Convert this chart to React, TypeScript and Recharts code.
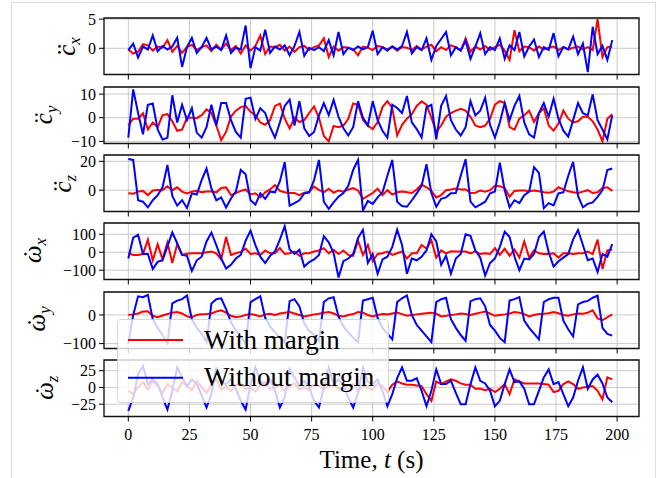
import { LineChart, Line, XAxis, YAxis, CartesianGrid, ReferenceArea } from "recharts"

// sample times (s)
const TIME = [
  0, 2, 4, 6, 8, 10, 12, 14, 16, 18, 20, 22, 24, 26, 28, 30, 32, 34, 36, 38,
  40, 42, 44, 46, 48, 50, 52, 54, 56, 58, 60, 62, 64, 66, 68, 70, 72, 74, 76, 78,
  80, 82, 84, 86, 88, 90, 92, 94, 96, 98, 100, 102, 104, 106, 108, 110, 112, 114, 116, 118,
  120, 122, 124, 126, 128, 130, 132, 134, 136, 138, 140, 142, 144, 146, 148, 150, 152, 154, 156, 158,
  160, 162, 164, 166, 168, 170, 172, 174, 176, 178, 180, 182, 184, 186, 188, 190, 192, 194, 196, 198,
]

// c_x acceleration
const CX_WITH = [
  -0.2, -0.9, -0.6, 0.7, 0.5, -0.4, 0.3, 0.1, 1.4, -0.6,
  0.4, -0.8, 0.2, 0.6, -0.3, 0.2, 0.5, -0.5, 0.6, -0.2,
  0.8, -0.3, 0.4, -0.9, 0.5, -0.4, 0.4, 2.2, -1.0, 0.3,
  0.2, 0.6, -0.4, 0.3, -0.6, 0.2, 0.4, -0.3, 0.2, 0.5,
  1.7, -1.5, 0.3, -0.4, 0.2, 0.1, -0.2, -1.2, 0.3, 0.1,
  -0.3, 0.4, 0.2, -0.2, 0.3, -0.4, 0.2, 0.1, -0.3, 0.4,
  -0.2, 0.3, 0.6, -0.5, 0.2, -0.3, 0.5, 0.2, -0.4, 1.7,
  -0.6, 0.3, -0.2, 0.4, -0.3, 0.2, 0.6, -0.4, -2.0, 3.1,
  -0.5, 0.3, 0.2, -0.4, 0.3, -0.2, 0.1, 0.3, -0.3, 0.2,
  -0.2, 0.1, 0.3, -0.2, 0.2, -0.3, 5.0, -1.5, 0.2, 0.3,
]
const CX_WITHOUT = [
  -0.3, 0.8, -1.6, 0.3, -0.2, 2.2, -0.5, 0.4, -0.2, 0.3,
  1.8, -3.2, 0.2, 1.8, -0.8, 0.2, 1.8, -0.2, 0.3, -0.3,
  2.2, -0.8, 0.1, -0.2, 3.9, -3.4, 0.2, -0.4, 3.2, -0.8,
  0.3, -0.2, 0.5, -1.2, 0.4, 2.8, -1.3, 0.1, -0.3, 0.2,
  -0.5, 1.4, -1.2, 2.8, -1.0, 0.1, -0.3, 0.3, -0.2, 0.2,
  3.0, -1.0, 0.2, -0.4, 0.3, -0.2, 0.4, 2.8, -0.9, 0.2,
  -0.3, 1.7, -2.0, 0.4, 1.6, 2.8, -1.2, 0.2, -0.4, 1.3,
  -1.8, 0.3, 2.6, -1.0, 0.2, -0.3, 1.7, -1.8, 0.5, -0.3,
  2.8, -1.4, 0.3, 1.5, -1.5, 0.2, -0.3, 2.6, -1.4, 0.2,
  -0.2, 2.0, -1.0, 0.8, -4.1, 3.7, -1.0, 0.4, -2.0, 1.4,
]

// c_y acceleration
const CY_WITH = [
  -3.3, -0.4, -0.4, 1.9, -5.0, -2.0, -4.0, 1.1, 1.5, -1.5,
  -5.5, -5.0, 0.0, 0.0, -0.2, 1.1, 3.5, 2.0, -3.3, -9.5,
  -6.0, 0.5, 3.0, 4.5, 5.0, 2.5, 1.0, -2.0, -3.0, -1.0,
  5.0, 6.0, -0.4, -4.5, 0.0, -1.8, -1.0, 2.0, 4.8, 0.0,
  -7.7, -10.0, -3.5, -4.0, -3.3, -0.5, 6.0, 5.5, -1.0, -3.3,
  -4.8, -1.8, 4.5, 7.0, 4.1, -7.5, -3.0, -0.4, 1.5, 5.0,
  7.0, 5.5, 0.0, -6.0, -3.3, 0.4, 2.0, 3.0, 3.8, 3.0,
  0.4, -3.3, -4.0, -3.3, -0.4, 5.5, 7.0, 6.3, -4.0, -5.0,
  -0.4, 1.1, 3.0, -1.8, 2.0, 4.0, -3.3, -5.5, -2.5, 3.0,
  -0.4, -2.0, -1.5, 0.4, 0.4, -1.5, -5.0, -10.0, -0.4, 1.5,
]
const CY_WITHOUT = [
  -8.4, 12.0, 2.0, -7.0, 5.5, 6.0, -5.0, -9.2, -8.5, 9.5,
  -2.0, 5.5, -1.0, 4.0, -6.3, -8.4, -4.0, 5.5, -3.3, 6.2,
  6.2, -1.0, -6.0, -8.4, 8.0, 8.5, -0.5, 4.0, 2.0, -4.0,
  -8.4, -2.0, 5.0, 7.7, -3.3, 7.0, -4.5, -7.7, -6.0, 1.0,
  6.2, 1.1, 7.5, 0.4, -4.5, -7.5, -4.0, 7.0, 0.0, -3.3,
  7.0, -1.0, -5.5, -8.4, 5.5, 4.1, 2.0, 9.2, -2.0, -4.8,
  -8.4, 4.5, 5.5, -9.2, 5.0, 9.2, -1.0, -5.0, -7.5, -4.0,
  7.0, 1.0, 3.0, 8.5, -3.0, -8.4, -2.0, 6.2, -1.0, 5.0,
  9.2, -2.0, -7.0, -8.4, 2.0, 6.2, 0.4, 8.0, -0.4, -5.5,
  -8.0, -1.0, 6.2, 1.9, 1.0, 9.9, -1.0, -5.0, -9.2, 1.0,
]

// c_z acceleration
const CZ_WITH = [
  -2.2, -2.5, -1.0, -0.5, -3.4, -0.2, 0.2, 0.0, 2.7, 0.0,
  2.0, -1.0, -2.2, -1.0, -0.5, -1.5, -1.0, -1.0, -1.5, 1.5,
  1.9, -3.4, -2.0, -0.5, 0.5, -3.0, -2.2, -5.0, -1.5, 0.5,
  3.5, -0.5, -1.5, -2.0, -2.0, -3.4, -1.8, -1.0, 2.5, 0.2,
  -1.5, 1.0, -1.8, -0.2, -1.0, 0.5, 1.5, -0.2, -6.0, -4.0,
  -2.0, 1.0, -3.5, 0.0, -3.0, -1.5, -1.0, -1.5, -2.0, 0.5,
  3.9, 2.0, -0.5, -5.0, -3.4, 0.0, 0.5, 1.2, 0.5, 0.7,
  -2.0, -1.8, -0.2, -1.0, 0.0, 3.0, 2.7, 1.5, -4.5, -0.5,
  -0.2, -0.3, -0.8, -0.2, -0.8, -1.5, -1.8, -1.0, 2.0, 0.5,
  -0.8, -1.5, -2.0, -1.0, 0.0, -2.0, -1.5, 1.5, 2.0, -0.5,
]
const CZ_WITHOUT = [
  21.6, 21.0, -7.0, -8.0, -12.0, -7.0, -3.5, 2.0, 17.5, -4.0,
  -10.7, -7.0, -12.4, -2.2, -3.0, 7.0, 15.0, 1.0, -7.0, -5.0,
  -12.0, -5.8, -1.0, 14.0, 11.0, -7.0, -10.0, -2.2, -6.0, -1.0,
  -1.5, 6.0, 19.5, -10.7, -9.0, -7.0, -2.2, -1.7, 7.0, 21.0,
  -8.0, -13.0, -8.5, -4.5, -2.0, 3.0, 14.0, 21.0, -14.0, -7.5,
  -9.5, -5.0, -1.5, 10.0, 21.0, -8.0, -11.0, -11.5, -7.0, -2.2,
  3.0, 18.0, -2.0, -11.5, -6.0, -5.0, -2.2, -2.0, 10.0, 21.5,
  -8.0, -11.9, -10.0, -8.0, -2.2, -1.0, 19.0, 0.0, -11.9, -7.0,
  -9.0, -3.5, -1.0, 16.0, 12.0, -12.5, -9.0, -10.5, -2.2, -1.5,
  10.0, 19.7, -4.0, -11.9, -9.5, -8.5, -4.6, 0.0, 14.0, 15.0,
]

// omega_x rate
const WX_WITH = [
  -6, -15, -15, -10, 70, -45, 45, -40, 55, -60,
  45, -15, -8, -5, -6, -6, 0, 4, -6, -40,
  85, -15, -6, 2, 20, -10, -6, -15, 10, -6,
  -6, 23, -10, -6, 4, -20, -6, -6, 4, 10,
  23, -6, 14, -10, 10, -15, -20, 65, -15, 40,
  -50, -10, -6, 4, -15, -6, 4, -35, -6, -6,
  40, 20, 65, -30, 10, -6, 5, 4, 4, 4,
  -6, 5, -10, -6, -10, 23, -15, 20, -20, 15,
  -30, 60, -30, 10, -6, -10, -10, -6, -30, -6,
  -6, -10, -6, -6, 4, -10, 70, -93, 10, 15,
]
const WX_WITHOUT = [
  -35, 81, 97, -10, -10, -93, -54, -45, 33, 110,
  50, -15, -20, -105, -45, -25, 60, 110, 40, -35,
  -90, -70, -35, -15, 65, 120, 40, -25, -60, -20,
  5, 70, 145, 15, -10, 14, -80, -55, -40, -15,
  90, 55, -5, -141, -50, -35, -10, 80, 125, -60,
  -10, -120, -40, -25, 30, 125, 40, -120, -35, -45,
  -25, 10, 100, 60, -70, -20, -120, -35, -10, 100,
  91, 10, -30, -130, -60, -35, 30, 115, 85, -25,
  -100, -35, -40, -10, 85, 115, 0, -80, -50, -30,
  -10, 72, 124, 40, -45, -35, -110, -10, -25, 45,
]

// omega_y rate
const WY_WITH = [
  0, 2, 5, 12, 13, -3, -8, -2, 3, 8,
  10, 5, -5, -8, 0, 2, 3, 5, 12, 16,
  8, -3, -8, -5, 0, 3, 0, -5, 2, 4,
  0, 5, 8, 10, 5, 0, -5, -2, 2, 4,
  8, 10, 5, -3, -5, 0, 3, 10, 8, 0,
  -5, 0, 3, 2, 5, 8, 3, -3, 0, 2,
  4, 6, 8, 4, -5, -3, 0, 2, 5, 3,
  0, 4, 8, 12, 5, -3, 0, 2, 5, 10,
  8, 3, -5, 0, 3, 4, 6, 10, 6, 0,
  -3, 2, 5, 4, 8, 16, -12, -18, -8, 2,
]
const WY_WITHOUT = [
  -100, 0, 65, 62, 70, -15, -45, -70, -98, 40,
  50, 55, 68, -15, -45, -65, -95, 40, 55, 58,
  20, -25, -55, -75, -100, 45, 55, 65, -10, -40,
  -60, -80, -95, 48, 55, 30, -30, -55, -70, -90,
  45, 58, 62, -5, -40, -60, -80, -95, 50, 55,
  60, -10, -45, -65, -85, 45, 58, 68, 0, -35,
  -55, -75, -95, 45, 55, 60, -15, -45, -70, -90,
  48, 55, 58, 30, -35, -55, -80, -95, 50, 55,
  62, -20, -45, -65, -85, 45, 55, 60, 60, -20,
  -50, -75, 37, 45, 49, 60, 67, -45, -66, -72,
]

// omega_z rate
const WZ_WITH = [
  -5, -10, 0, 8, -3, 10, 2, -8, 5, 0,
  -6, 8, 2, -4, 10, 0, -8, 4, 12, -3,
  2, -5, 3, 6, -2, 0, -6, 4, 8, -2,
  0, 3, -5, 2, 6, -3, 0, -4, 5, 2,
  -3, 2, 4, -2, 0, 3, 5, -5, 2, 0,
  -3, 6, 2, -7, 4, 9, 6, 4, 4, 3,
  2, -10, -20, 9, 5, 9, 12, 10, 6, 4,
  4, -2, -2, -4, -2, -7, -2, 5, -10, 12,
  9, 6, 6, 6, 6, 5, 4, -7, -5, 5,
  9, 5, -2, 0, 1, 2, -5, -18, 15, 12,
]
const WZ_WITHOUT = [
  -35, -15, 20, 32, 5, 12, 5, -15, -33, -5,
  30, 15, 2, 12, 5, -12, -30, -10, 30, 8,
  5, 12, -2, -20, -33, 5, 30, 10, 3, 12,
  -5, -30, -15, 28, 15, 2, 10, 0, -20, -30,
  0, 30, 5, 12, 3, -15, -30, -8, 30, 8,
  5, 12, -5, -28, -10, 14, 30, 10, 10, 14,
  -5, -28, -5, 27, 5, 5, 10, -8, -25, -25,
  5, 30, 10, 6, -5, -28, -20, 5, 27, 8,
  9, -2, -25, -25, -5, 15, 27, 5, 8, -10,
  -28, -15, 10, 30, -2, 12, 19, 6, -15, -22,
]

const X_TICKS = [0, 25, 50, 75, 100, 125, 150, 175, 200]
const SERIES_NAMES = ["With margin", "Without margin"]

// labels: base glyph, number of accent dots, subscript
const PANELS = [
  { red: CX_WITH, blue: CX_WITHOUT, domain: [-4.5, 5.2], ticks: [0, 5], sym: "c", dots: 2, sub: "x", labelX: 75 },
  { red: CY_WITH, blue: CY_WITHOUT, domain: [-10.9, 13], ticks: [-10, 0, 10], sym: "c", dots: 2, sub: "y", labelX: 52 },
  { red: CZ_WITH, blue: CZ_WITHOUT, domain: [-14.8, 24.4], ticks: [0, 20], sym: "c", dots: 2, sub: "z", labelX: 71 },
  { red: WX_WITH, blue: WX_WITHOUT, domain: [-152, 163], ticks: [-100, 0, 100], sym: "\u03c9", dots: 1, sub: "x", labelX: 41 },
  { red: WY_WITH, blue: WY_WITHOUT, domain: [-117, 80], ticks: [-100, 0], sym: "\u03c9", dots: 1, sub: "y", labelX: 45 },
  { red: WZ_WITH, blue: WZ_WITHOUT, domain: [-43.4, 41], ticks: [-25, 0, 25], sym: "\u03c9", dots: 1, sub: "z", labelX: 53 },
]

const FONT = "'Liberation Serif', 'DejaVu Serif', serif"
const PLOT_TOP = 18.3
const PLOT_STEP = 68.35
const PLOT_H = 56.5
const PAD_TOP = 12
const X_DOMAIN = [-9.95, 208.95]
const LW = 2

const fmt = (v: number) => (v < 0 ? "\u2212" + Math.abs(v) : String(v))

function Panel({ cfg, index }: { cfg: any; index: number }) {
  const last = index === PANELS.length - 1
  const xh = last ? 30 : 8
  const data = TIME.map((t, i) => ({ t, red: cfg.red[i], blue: cfg.blue[i] }))
  const top = PLOT_TOP + index * PLOT_STEP
  return (
    <div style={{ position: "absolute", left: 0, top: top - PAD_TOP }}>
      <LineChart
        width={665}
        height={PAD_TOP + PLOT_H + xh}
        data={data}
        margin={{ top: PAD_TOP, right: 26, bottom: 0, left: 0 }}
      >
        <CartesianGrid stroke="#c9c9c9" strokeWidth={1} />
        <XAxis
          type="number"
          dataKey="t"
          domain={X_DOMAIN}
          ticks={X_TICKS}
          allowDataOverflow
          height={xh}
          axisLine={false}
          tickSize={5}
          tickMargin={7}
          tickLine={{ stroke: "#000", strokeWidth: 1 }}
          tick={last ? { fill: "#000", fontSize: 16, fontFamily: FONT } : () => <g />}
          interval={0}
        />
        <YAxis
          type="number"
          domain={cfg.domain}
          ticks={cfg.ticks}
          allowDataOverflow
          width={104}
          axisLine={false}
          tickSize={5}
          tickMargin={3}
          tickLine={{ stroke: "#000", strokeWidth: 1 }}
          tick={{ fill: "#000", fontSize: 16, fontFamily: FONT }}
          tickFormatter={fmt}
          interval={0}
        />
        <Line dataKey="red" stroke="#ff0000" strokeWidth={LW} dot={false} isAnimationActive={false} />
        <Line dataKey="blue" stroke="#0000ff" strokeWidth={LW} dot={false} isAnimationActive={false} />
        <ReferenceArea
          x1={X_DOMAIN[0]}
          x2={X_DOMAIN[1]}
          y1={cfg.domain[0]}
          y2={cfg.domain[1]}
          fill="none"
          stroke="#111"
          strokeWidth={1.3}
          ifOverflow="visible"
        />
      </LineChart>
    </div>
  )
}

// rotated math label: glyph with accent dots and a subscript
function MathLabel({ p, cy }: { p: any; cy: number }) {
  const fs = 25
  const glyphW = p.sym === "c" ? 0.444 * fs : 0.62 * fs
  const subW = 0.44 * 17
  const total = glyphW + subW
  const start = -total / 2
  const dotY = -fs * 0.62
  const mid = start + glyphW * 0.58
  const dots = p.dots === 2 ? [mid - 3, mid + 3] : [mid]
  return (
    <g transform={`translate(${p.labelX} ${cy}) rotate(-90)`}>
      <text x={start} y={0} fontFamily={FONT} fontStyle="italic" fontSize={fs} fill="#000">
        {p.sym}
        <tspan fontSize={17} dy={5}>{p.sub}</tspan>
      </text>
      {dots.map((d: number, k: number) => (
        <circle key={k} cx={d} cy={dotY} r={1.3} fill="#000" />
      ))}
    </g>
  )
}

export default function App() {
  return (
    <div style={{ position: "absolute", left: 0, top: 0, width: 665, height: 478, overflow: "hidden", background: "#fff" }}>
      <div style={{ position: "absolute", left: 11, top: 2, width: 643, height: 500, border: "1px solid #dcdcdc" }} />
      {PANELS.map((p, i) => (
        <Panel key={i} cfg={p} index={i} />
      ))}
      <svg width={665} height={478} style={{ position: "absolute", left: 0, top: 0, pointerEvents: "none" }}>
        {PANELS.map((p, i) => (
          <MathLabel key={i} p={p} cy={PLOT_TOP + i * PLOT_STEP + PLOT_H / 2} />
        ))}
        <text x={371.5} y={468} textAnchor="middle" fontFamily={FONT} fontSize={25} fill="#000">
          Time, <tspan fontStyle="italic">t</tspan> (s)
        </text>
        <rect x={117.5} y={319.5} width={271} height={83} rx={3} fill="#fff" fillOpacity={0.8} stroke="#cccccc" strokeOpacity={0.8} />
        <line x1={128} x2={183} y1={340} y2={340} stroke="#ff0000" strokeWidth={LW} />
        <text x={204} y={348.5} fontFamily={FONT} fontSize={27} fill="#000">{SERIES_NAMES[0]}</text>
        <line x1={128} x2={183} y1={377.7} y2={377.7} stroke="#0000ff" strokeWidth={LW} />
        <text x={204} y={386} fontFamily={FONT} fontSize={27} fill="#000">{SERIES_NAMES[1]}</text>
      </svg>
    </div>
  )
}
